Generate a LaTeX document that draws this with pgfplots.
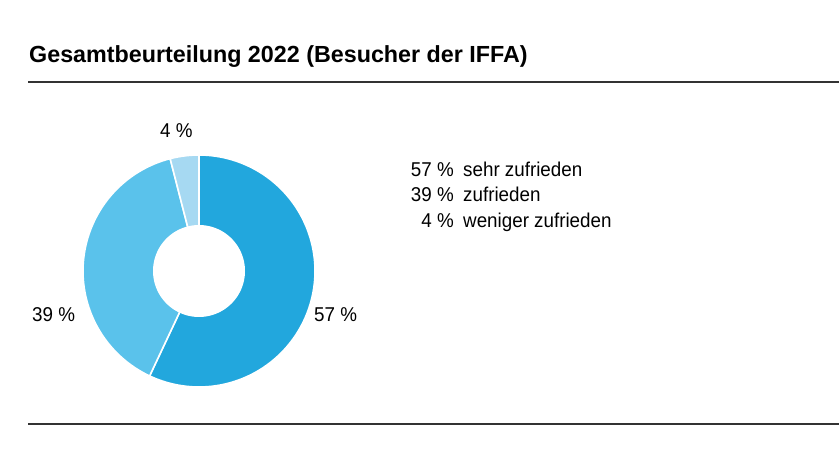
\documentclass[border=0pt]{standalone}
\usepackage{fontspec}
\setmainfont{Liberation Sans}
\newfontfamily\condfont[FakeStretch=0.94]{Liberation Sans}
\newfontfamily\titlefont{Liberation Sans}
\usepackage{pgfplots}
\pgfplotsset{compat=1.18}
\definecolor{cA}{HTML}{22A7DD}
\definecolor{cB}{HTML}{5AC2EB}
\definecolor{cC}{HTML}{A6D9F2}
\definecolor{rule}{HTML}{333333}
% data (percent)
\def\vA{57}\def\vB{39}\def\vC{4}
\pgfmathsetmacro\aA{90}
\pgfmathsetmacro\aB{90-3.6*\vA}
\pgfmathsetmacro\aC{\aB-3.6*\vB}
\pgfmathsetmacro\aD{\aC-3.6*\vC}
\begin{document}
\begin{tikzpicture}
\useasboundingbox (0,0) rectangle (839pt,472pt);
\begin{axis}[at={(0,0)},anchor=south west,x=1pt,y=1pt,xmin=0,xmax=839,ymin=0,ymax=472,
  hide axis,clip=false,trig format plots=deg]
\addplot[fill=cA,draw=white,line width=1.6pt,domain=\aB:\aA,samples=120] ({199+116*cos(x)},{201+116*sin(x)}) -- (axis cs:199,201) -- cycle;
\addplot[fill=cB,draw=white,line width=1.6pt,domain=\aC:\aB,samples=100] ({199+116*cos(x)},{201+116*sin(x)}) -- (axis cs:199,201) -- cycle;
\addplot[fill=cC,draw=white,line width=1.6pt,domain=\aD:\aC,samples=20] ({199+116*cos(x)},{201+116*sin(x)}) -- (axis cs:199,201) -- cycle;
\addplot[fill=white,draw=none,domain=0:360,samples=120] ({199+46*cos(x)},{201+46*sin(x)}) -- cycle;
% title and rules
\node[anchor=base west,inner sep=0,font=\titlefont\bfseries\fontsize{23.3}{26}\selectfont] at (axis cs:29,409) {Gesamtbeurteilung 2022 (Besucher der IFFA)};
\draw[rule,line width=2pt] (axis cs:28,390) -- (axis cs:839,390);
\draw[rule,line width=1.5pt] (axis cs:28,48) -- (axis cs:839,48);
% slice labels
\begin{scope}[every node/.style={inner sep=0,font=\condfont\fontsize{20}{23}\selectfont}]
\node[anchor=base west] at (axis cs:160,334) {4 \%};
\node[anchor=base west] at (axis cs:32,150) {39 \%};
\node[anchor=base west] at (axis cs:314,150) {57 \%};
\node[anchor=base east] at (axis cs:454,295.5) {57 \%};
\node[anchor=base west] at (axis cs:463,295.5) {sehr zufrieden};
\node[anchor=base east] at (axis cs:454,270) {39 \%};
\node[anchor=base west] at (axis cs:463,270) {zufrieden};
\node[anchor=base east] at (axis cs:454,244.3) {4 \%};
\node[anchor=base west] at (axis cs:463,244.3) {weniger zufrieden};
\end{scope}
\end{axis}
\end{tikzpicture}
\end{document}
